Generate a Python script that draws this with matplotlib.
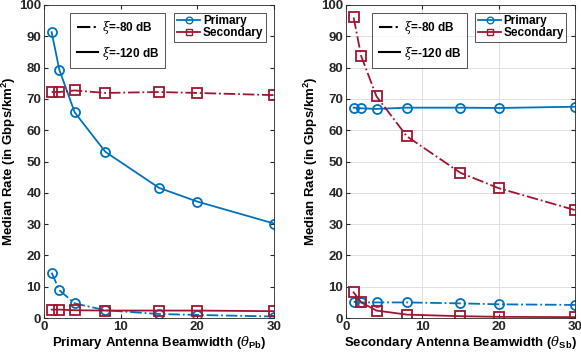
import matplotlib
matplotlib.use("Agg")
import matplotlib.pyplot as plt
from matplotlib.lines import Line2D

plt.rcParams['font.family'] = ['Liberation Sans', 'DejaVu Sans']
plt.rcParams['font.weight'] = 'bold'
plt.rcParams['mathtext.fontset'] = 'custom'
plt.rcParams['mathtext.rm'] = 'Liberation Sans:bold'
plt.rcParams['mathtext.bf'] = 'Liberation Sans:bold'
plt.rcParams['mathtext.it'] = 'DejaVu Serif:italic:normal'

beamwidth = [1, 2, 4, 8, 15, 20, 30]

# Left panel: varying primary beamwidth
left_primary_120 = [91.3, 79.3, 65.7, 53.1, 41.6, 37.2, 30.2]
left_secondary_80 = [72.2, 72.2, 72.7, 71.9, 72.2, 71.9, 71.2]
left_primary_80 = [14.5, 8.9, 4.7, 2.5, 1.3, 1.0, 0.5]
left_secondary_120 = [2.7, 2.7, 2.5, 2.4, 2.4, 2.4, 2.2]

# Right panel: varying secondary beamwidth
right_primary_120 = [67.2, 67.0, 66.8, 67.2, 67.2, 67.1, 67.5]
right_secondary_80 = [96.0, 83.6, 70.8, 58.0, 46.4, 41.5, 34.5]
right_primary_80 = [5.2, 5.0, 5.0, 5.0, 4.7, 4.4, 4.2]
right_secondary_120 = [8.2, 5.0, 2.4, 1.1, 0.6, 0.4, 0.3]

blue = '#0072BD'
red = '#A2142F'

fig = plt.figure(figsize=(5.81, 3.55), dpi=100)
ax1 = fig.add_axes([0.0757, 0.104, 0.396, 0.882])
ax2 = fig.add_axes([0.5955, 0.104, 0.394, 0.882])

def draw(ax, p120, s80, p80, s120, xlabel, grid):
    mk = dict(markersize=6.5, markerfacecolor='none', markeredgewidth=1.3, linewidth=1.3)
    ax.plot(beamwidth, p120, '-', color=blue, marker='o', **mk)
    ax.plot(beamwidth, s80, '-.', color=red, marker='s', **mk)
    ax.plot(beamwidth, p80, '-.', color=blue, marker='o', **mk)
    ax.plot(beamwidth, s120, '-', color=red, marker='s', **mk)
    ax.set_xlim(0, 30)
    ax.set_ylim(0, 100)
    ax.set_xticks([0, 10, 20, 30])
    ax.set_yticks(range(0, 101, 10))
    ax.tick_params(direction='in', length=3, labelsize=9.5, colors='#262626', top=True, right=True, pad=2)
    for s in ax.spines.values():
        s.set_color('#262626')
        s.set_linewidth(0.6)
    if grid:
        ax.grid(True, color='#e0e0e0', linewidth=0.7)
        ax.set_axisbelow(True)
    ax.set_xlabel(xlabel, fontsize=9.5, fontweight='bold', labelpad=1)
    ax.set_ylabel(r'Median Rate (in Gbps/km$^{2}$)', fontsize=9.5, fontweight='bold', labelpad=1)
    h1 = [Line2D([], [], color='black', linestyle='-.', linewidth=1.5),
          Line2D([], [], color='black', linestyle='-', linewidth=1.5)]
    leg1 = ax.legend(h1, [r'$\xi$=-80 dB', r'$\xi$=-120 dB'], loc='upper left',
                     bbox_to_anchor=(0.115, 0.975), frameon=True, fancybox=False,
                     edgecolor='#262626', fontsize=8.5, handlelength=1.8,
                     handletextpad=0.3, labelspacing=0.7, borderpad=0.55, borderaxespad=0)
    leg1.get_frame().set_linewidth(0.7)
    ax.add_artist(leg1)
    h2 = [Line2D([], [], color=blue, marker='o', markerfacecolor='none', linewidth=1.3),
          Line2D([], [], color=red, marker='s', markerfacecolor='none', linewidth=1.3)]
    leg2 = ax.legend(h2, ['Primary', 'Secondary'], loc='upper right',
                     bbox_to_anchor=(0.963, 0.975), frameon=True, fancybox=False,
                     edgecolor='#262626', fontsize=8.5, handlelength=2.0,
                     handletextpad=0.2, labelspacing=0.0, borderpad=0.2,
                     markerscale=0.8, borderaxespad=0)
    leg2.get_frame().set_linewidth(0.7)

draw(ax1, left_primary_120, left_secondary_80, left_primary_80, left_secondary_120,
     r'Primary Antenna Beamwidth ($\theta_{\mathbf{Pb}}$)', False)
draw(ax2, right_primary_120, right_secondary_80, right_primary_80, right_secondary_120,
     r'Secondary Antenna Beamwidth ($\theta_{\mathbf{Sb}}$)', True)

fig.savefig('out.png', dpi=100)
